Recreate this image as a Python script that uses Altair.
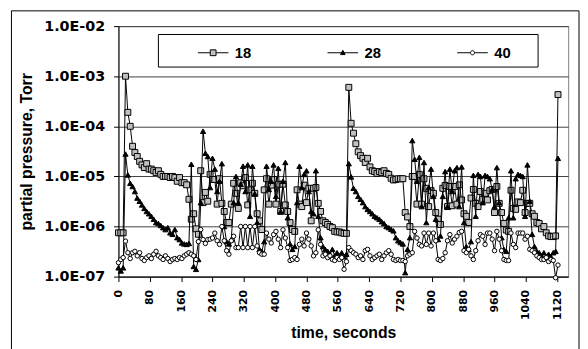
import altair as alt
import pandas as pd

series_names = ["18", "28", "40"]
times = list(range(0, 1128, 6))  # sampling grid, seconds

p18 = [
    7.5e-7, 7.5e-7, 7.5e-7, 1.0e-3, 1.9e-4, 1.0e-4, 4.0e-5, 3.0e-5, 2.5e-5, 2.0e-5,
    1.7e-5, 1.5e-5, 1.8e-5, 1.4e-5, 1.4e-5, 1.3e-5, 1.2e-5, 1.3e-5, 1.1e-5, 1.0e-5,
    1.0e-5, 1.0e-5, 9.5e-6, 1.0e-5, 9.5e-6, 8.0e-6, 9.5e-6, 7.5e-6, 7.5e-6, 6.8e-6,
    3.5e-6, 1.4e-6, 1.8e-6, 9.0e-7, 7.0e-7, 1.3e-5, 3.0e-6, 4.8e-6, 3.2e-6, 1.1e-5,
    8.7e-6, 8.7e-6, 2.8e-6, 9.0e-6, 2.9e-6, 2.0e-6, 1.2e-6, 1.2e-6, 2.8e-6, 7.3e-6,
    4.6e-6, 2.3e-6, 7.5e-6, 6.5e-6, 9.5e-6, 2.7e-6, 5.4e-6, 7.3e-6, 4.6e-6, 1.8e-6,
    1.3e-6, 8.7e-7, 5.4e-6, 9.0e-6, 2.8e-6, 6.7e-6, 8.7e-6, 2.8e-6, 7.0e-6, 2.0e-6,
    7.0e-6, 2.7e-6, 2.0e-6, 1.2e-6, 8.7e-7, 8.0e-7, 5.4e-6, 2.8e-6, 2.5e-6, 6.7e-6,
    3.0e-6, 5.8e-6, 1.3e-6, 5.8e-6, 6.0e-6, 2.9e-6, 2.0e-6, 1.3e-6, 1.2e-6, 1.1e-6,
    1.0e-6, 9.5e-7, 8.0e-7, 7.8e-7, 7.8e-7, 7.5e-7, 7.3e-7, 7.3e-7, 6.0e-4, 1.15e-4,
    7.3e-5, 4.5e-5, 3.1e-5, 2.6e-5, 2.3e-5, 1.9e-5, 2.3e-5, 1.55e-5, 1.3e-5, 1.25e-5,
    1.15e-5, 1.25e-5, 1.2e-5, 1.3e-5, 1.15e-5, 1.1e-5, 9.2e-6, 8.5e-6, 8.7e-6, 9.0e-6,
    9.0e-6, 9.0e-6, 1.9e-6, 1.55e-6, 1.0e-6, 1.0e-5, 1.0e-5, 2.8e-6, 1.1e-5, 2.8e-6,
    9.0e-6, 5.8e-6, 2.5e-6, 5.2e-6, 4.6e-6, 1.9e-6, 1.4e-6, 1.1e-6, 5.8e-6, 6.6e-6,
    2.5e-6, 6.3e-6, 2.6e-6, 6.3e-6, 2.8e-6, 6.8e-6, 3.4e-6, 1.8e-6, 1.6e-6, 1.2e-6,
    3.7e-6, 5.5e-6, 2.9e-6, 2.5e-6, 5.0e-6, 3.5e-6, 4.6e-6, 3.4e-6, 5.2e-6, 5.5e-6,
    1.9e-6, 6.3e-6, 2.9e-6, 1.9e-6, 1.15e-6, 8.5e-7, 8.0e-7, 5.3e-6, 2.3e-6, 2.2e-6,
    3.1e-6, 3.0e-6, 5.3e-6, 1.9e-6, 2.9e-6, 2.9e-6, 1.8e-6, 1.6e-6, 1.2e-6, 1.15e-6,
    9.0e-7, 1.0e-6, 7.5e-7, 6.5e-7, 6.3e-7, 6.3e-7, 6.5e-7, 4.3e-4,
]

p28 = [
    1.5e-7, 1.3e-7, 1.5e-7, 2.8e-5, 1.07e-5, 7.3e-6, 6.3e-6, 5.0e-6, 3.7e-6, 3.2e-6,
    2.7e-6, 2.3e-6, 2.0e-6, 1.8e-6, 1.6e-6, 1.4e-6, 1.2e-6, 1.15e-6, 1.05e-6, 9.5e-7,
    8.7e-7, 9.5e-7, 7.5e-7, 7.0e-7, 8.7e-7, 6.0e-7, 5.5e-7, 4.7e-7, 4.5e-7, 4.4e-7,
    4.6e-7, 1.75e-5, 1.6e-7, 1.4e-7, 2.2e-7, 3.0e-6, 8.0e-5, 2.9e-5, 2.5e-5, 6.0e-6,
    2.3e-5, 1.4e-5, 5.0e-6, 8.0e-6, 1.8e-5, 1.0e-6, 5.0e-7, 4.5e-7, 5.5e-7, 3.0e-6,
    1.0e-5, 3.0e-6, 7.0e-6, 1.6e-5, 5.0e-6, 1.7e-5, 1.6e-6, 1.6e-5, 4.5e-6, 1.2e-6,
    3.5e-7, 3.2e-7, 5.0e-7, 1.6e-5, 5.5e-6, 8.0e-6, 1.7e-5, 4.0e-6, 1.45e-5, 2.0e-6,
    8.0e-6, 1.9e-5, 1.5e-6, 4.5e-7, 3.5e-7, 4.0e-7, 3.0e-6, 1.6e-5, 6.0e-6, 1.1e-5,
    1.3e-5, 5.0e-6, 2.0e-6, 1.8e-6, 1.3e-5, 1.6e-6, 6.0e-7, 4.0e-7, 3.5e-7, 3.2e-7,
    2.8e-7, 3.5e-7, 2.6e-7, 3.0e-7, 2.6e-7, 3.0e-7, 2.5e-7, 2.8e-7, 1.8e-5, 9.8e-6,
    5.8e-6, 5.0e-6, 4.0e-6, 3.5e-6, 3.0e-6, 2.5e-6, 2.2e-6, 2.0e-6, 1.8e-6, 1.6e-6,
    1.5e-6, 1.4e-6, 1.25e-6, 1.15e-6, 1.0e-6, 9.5e-7, 8.8e-7, 8.2e-7, 6.0e-7, 5.2e-7,
    4.8e-7, 4.5e-7, 1.2e-7, 3.5e-7, 6.0e-7, 5.2e-5, 2.2e-5, 8.0e-6, 2.4e-5, 2.5e-6,
    1.9e-5, 1.2e-6, 6.0e-6, 1.4e-5, 4.0e-6, 1.4e-6, 5.5e-7, 6.5e-7, 4.0e-6, 1.25e-5,
    2.5e-6, 1.4e-5, 5.0e-6, 1.3e-5, 1.5e-5, 2.5e-6, 1.55e-5, 1.2e-6, 4.0e-7, 3.5e-7,
    5.0e-7, 1.05e-5, 1.6e-6, 1.1e-5, 1.0e-5, 3.0e-6, 1.05e-5, 1.0e-5, 9.0e-6, 5.5e-6,
    2.5e-6, 1.5e-5, 3.0e-6, 6.0e-7, 3.5e-7, 3.2e-7, 1.5e-6, 1.3e-5, 1.5e-6, 9.0e-6,
    1.1e-5, 1.05e-5, 1.0e-5, 1.6e-6, 1.7e-5, 3.2e-6, 7.0e-7, 4.0e-7, 3.2e-7, 3.0e-7,
    2.6e-7, 3.0e-7, 2.5e-7, 2.8e-7, 2.5e-7, 3.0e-7, 3.2e-7, 2.3e-5,
]

p40 = [
    1.9e-7, 2.2e-7, 2.4e-7, 5.1e-7, 3.0e-7, 2.3e-7, 3.0e-7, 3.2e-7, 2.6e-7, 3.0e-7,
    2.3e-7, 2.1e-7, 2.4e-7, 2.6e-7, 2.3e-7, 2.8e-7, 3.2e-7, 2.6e-7, 2.4e-7, 2.2e-7,
    2.6e-7, 2.3e-7, 2.0e-7, 2.2e-7, 2.3e-7, 2.2e-7, 2.4e-7, 2.3e-7, 2.6e-7, 2.8e-7,
    3.0e-7, 2.8e-7, 2.6e-7, 2.2e-7, 5.0e-7, 8.7e-7, 5.5e-7, 4.6e-7, 5.5e-7, 5.6e-7,
    5.9e-7, 7.4e-7, 5.2e-7, 4.4e-7, 1.0e-6, 5.2e-7, 3.3e-7, 2.8e-7, 5.2e-7, 6.4e-7,
    3.8e-7, 3.8e-7, 1.0e-6, 3.8e-7, 1.0e-6, 3.8e-7, 1.0e-6, 3.8e-7, 1.0e-6, 4.1e-7,
    3.0e-7, 2.8e-7, 2.8e-7, 7.4e-7, 5.6e-7, 4.7e-7, 6.9e-7, 8.0e-7, 5.6e-7, 3.8e-7,
    8.6e-7, 5.9e-7, 3.8e-7, 2.1e-7, 2.2e-7, 2.4e-7, 2.2e-7, 4.4e-7, 5.6e-7, 4.1e-7,
    7.4e-7, 5.6e-7, 4.1e-7, 2.6e-7, 3.0e-7, 8.6e-7, 4.4e-7, 2.6e-7, 2.8e-7, 2.4e-7,
    2.6e-7, 2.2e-7, 2.1e-7, 2.4e-7, 2.2e-7, 2.4e-7, 1.4e-7, 2.0e-7, 3.8e-7, 3.3e-7,
    3.0e-7, 2.8e-7, 2.4e-7, 2.6e-7, 2.2e-7, 3.3e-7, 3.5e-7, 2.6e-7, 2.2e-7, 2.4e-7,
    2.6e-7, 2.8e-7, 2.2e-7, 2.6e-7, 3.0e-7, 3.3e-7, 2.8e-7, 2.2e-7, 2.1e-7, 2.2e-7,
    2.1e-7, 2.1e-7, 2.0e-7, 2.6e-7, 2.8e-7, 3.0e-7, 8.0e-7, 5.9e-7, 4.4e-7, 4.1e-7,
    7.4e-7, 4.4e-7, 7.4e-7, 4.1e-7, 7.4e-7, 5.2e-7, 2.2e-7, 2.1e-7, 2.3e-7, 3.0e-7,
    5.2e-7, 6.9e-7, 4.7e-7, 5.6e-7, 6.4e-7, 7.6e-7, 8.0e-7, 3.3e-7, 3.0e-7, 3.5e-7,
    2.6e-7, 2.2e-7, 3.3e-7, 5.2e-7, 6.9e-7, 6.4e-7, 4.4e-7, 7.4e-7, 7.4e-7, 5.6e-7,
    3.3e-7, 8.0e-7, 5.6e-7, 3.3e-7, 2.2e-7, 2.1e-7, 2.1e-7, 7.4e-7, 4.4e-7, 3.8e-7,
    7.4e-7, 7.4e-7, 7.4e-7, 5.6e-7, 6.4e-7, 3.5e-7, 3.3e-7, 3.0e-7, 2.6e-7, 2.4e-7,
    2.2e-7, 2.2e-7, 2.4e-7, 2.0e-7, 2.2e-7, 2.1e-7, 9.5e-8, 1.7e-7,
]

x_ticks = list(range(0, 1121, 80))
y_ticks = [1e-7, 1e-6, 1e-5, 1e-4, 1e-3, 1e-2]

marker_shape = {"18": "square", "28": "triangle-up", "40": "circle"}
marker_fill = {"18": "#c0c0c0", "28": "#000000", "40": "#ffffff"}
marker_size = {"18": 36, "28": 28, "40": 20}
# legend keys: line segment with the marker in the middle (unit path coords)
legend_paths = [
    "M-1,0H-0.19M0.19,0H1M-0.19,-0.19H0.19V0.19H-0.19Z",
    "M-1,0H1M-0.15,0.12L0.15,0.12L0,-0.16Z",
    "M-1,0H-0.135M0.135,0H1M0.135,0A0.135,0.135,0,1,1,-0.135,0A0.135,0.135,0,1,1,0.135,0Z",
]

rows = []
for name, vals in zip(series_names, [p18, p28, p40]):
    for t, v in zip(times, vals):
        rows.append({"t": t, "p": v, "series": name})
df = pd.DataFrame(rows)

W, H = 456, 254
BOLD_ARIAL = "Liberation Sans"
TICK_FONT = "DejaVu Sans"

xenc = alt.X(
    "t:Q",
    scale=alt.Scale(domain=[0, 1148], nice=False, zero=False),
    axis=alt.Axis(
        values=x_ticks, format="d", title="time, seconds", labelAngle=270, labelAlign="right",
        labelBaseline="middle", labelFont=TICK_FONT, labelFontSize=11,
        labelFontWeight="bold", labelColor="black", labelPadding=8, labelFlush=False,
        labelOverlap=False, tickSize=5, tickColor="black", domainColor="black",
        grid=False, titleFont=BOLD_ARIAL, titleFontSize=16, titleFontWeight="bold",
        titleColor="black", titleY=62, titleBaseline="alphabetic",
    ),
)
yenc = alt.Y(
    "p:Q",
    scale=alt.Scale(type="log", domain=[1e-7, 1e-2], nice=False),
    axis=alt.Axis(
        values=y_ticks, labelExpr="'1.0E-0' + round(-log(datum.value) / LN10)",
        title="partial pressure, Torr", labelFont=TICK_FONT, labelFontSize=14.5,
        labelFontWeight="bold", labelColor="black", labelPadding=9, labelFlush=False,
        labelOverlap=False, tickSize=5, tickColor="black", domainColor="black",
        grid=True, gridColor="#404040", gridWidth=1,
        titleFont=BOLD_ARIAL, titleFontSize=16, titleFontWeight="bold",
        titleColor="black", titleX=-88, titleY=127, titleAngle=270,
        titleAlign="center", titleBaseline="alphabetic",
    ),
)

legend = alt.Legend(
    title=None, orient="none", legendX=80, legendY=11, direction="horizontal",
    columns=3, columnPadding=74.5, padding=0, symbolSize=961, labelOffset=6,
    labelFont=BOLD_ARIAL, labelFontSize=15, labelFontWeight="bold", labelColor="black",
    symbolStrokeWidth=1, symbolStrokeColor="black", symbolOpacity=1,
)

one = pd.DataFrame({"a": [0]})
border = alt.Chart(one).mark_rect(fillOpacity=0, stroke="black", strokeWidth=1).encode(
    x=alt.value(-108.5), x2=alt.value(467), y=alt.value(-15.5), y2=alt.value(340)
)
legend_box = alt.Chart(one).mark_rect(fill="white", stroke="black", strokeWidth=1).encode(
    x=alt.value(40.5), x2=alt.value(425.5), y=alt.value(8.5), y2=alt.value(41.5)
)

base = alt.Chart(df).encode(x=xenc, y=yenc)
layers = [border, legend_box]
for s in series_names:
    sub = base.transform_filter(alt.datum.series == s)
    layers.append(sub.mark_line(color="black", strokeWidth=1))
    layers.append(
        sub.mark_point(
            shape=marker_shape[s], filled=True, fill=marker_fill[s], size=marker_size[s],
            stroke="black", strokeWidth=1, opacity=1,
        )
    )

# legend-only layer (no rows drawn): its scales carry the legend key symbols
legend_layer = base.transform_filter("false").mark_point(
    filled=True, strokeWidth=1, opacity=1, size=961
).encode(
    shape=alt.Shape("series:N", scale=alt.Scale(domain=series_names, range=legend_paths), legend=legend),
    fill=alt.Fill("series:N", scale=alt.Scale(domain=series_names, range=[marker_fill[s] for s in series_names]), legend=legend),
    stroke=alt.Stroke("series:N", scale=alt.Scale(domain=series_names, range=["#000000", "#000000", "#000000"]), legend=legend),
)
layers.append(legend_layer)

chart = (
    alt.layer(*layers)
    .properties(
        width=W, height=H,
        padding={"left": 112, "top": 16, "right": 12, "bottom": 71},
        autosize=alt.AutoSizeParams(type="none"),
    )
    .configure(background="white")
    .configure_view(stroke="#808080", strokeWidth=1)
)

chart.save("out.html", embed_options={"renderer": "svg", "actions": False})
